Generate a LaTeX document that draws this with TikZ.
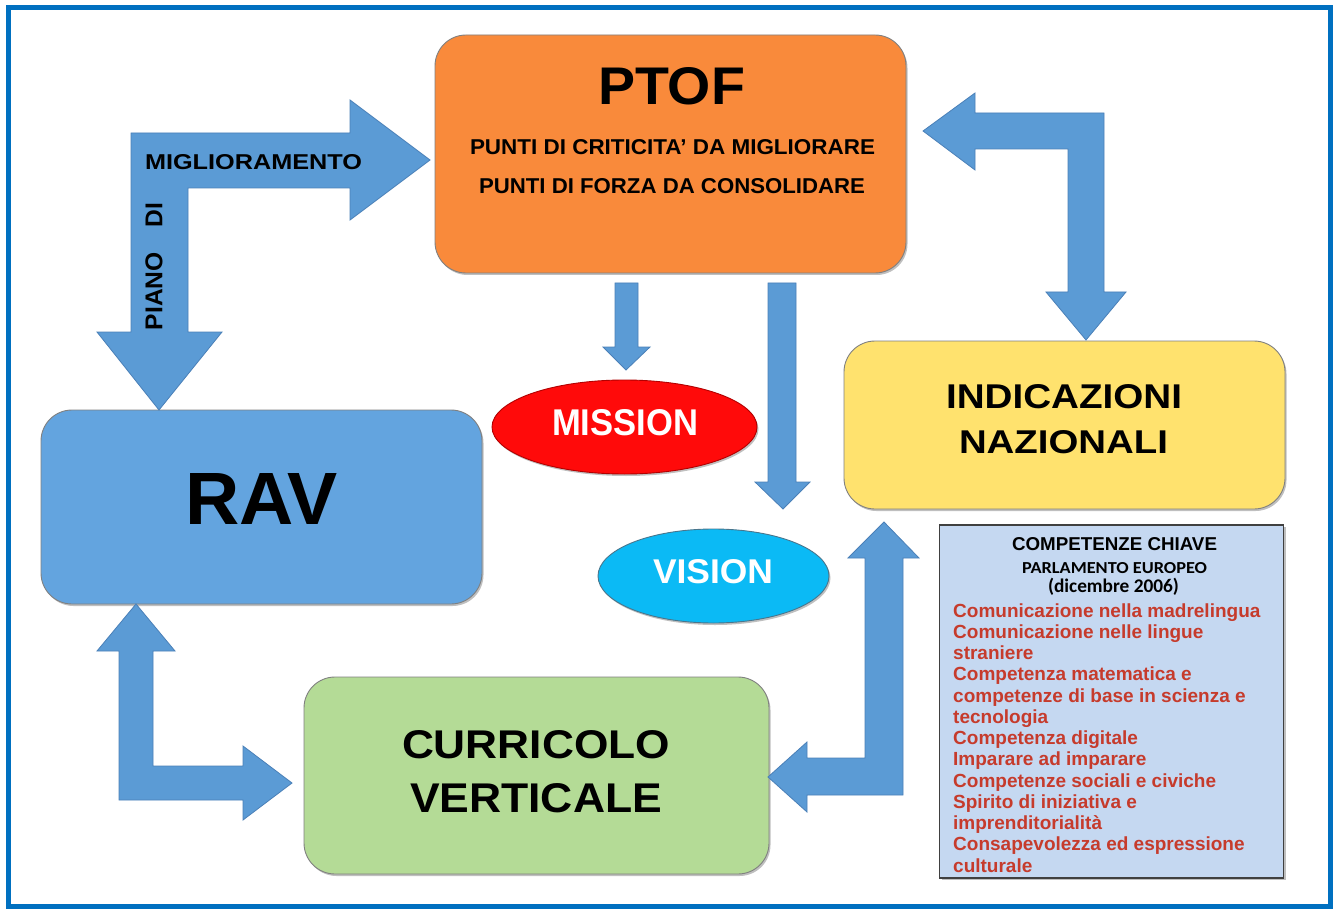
\documentclass[tikz,border=0pt]{standalone}
\usepackage{fontspec}
\setmainfont{Liberation Sans}
\newfontfamily\calfont{Carlito}
\usetikzlibrary{shadows,shapes.geometric}
\definecolor{framec}{HTML}{0070C0}
\definecolor{arrowc}{HTML}{5B9BD5}
\definecolor{arrowd}{HTML}{4A80B8}
\definecolor{ptofc}{HTML}{F98A3B}
\definecolor{ravc}{HTML}{63A4DF}
\definecolor{indc}{HTML}{FFE26E}
\definecolor{curc}{HTML}{B4DB96}
\definecolor{compc}{HTML}{C5D8F1}
\definecolor{redtxt}{HTML}{C63B2C}
\definecolor{missc}{HTML}{FF0A0A}
\definecolor{visc}{HTML}{0BBAF5}
\newcommand\fitt[3]{\resizebox{#1pt}{#2pt}{#3}}
\begin{document}
\begin{tikzpicture}[x=1pt,y=-1pt,
  box/.style={rounded corners=31pt, draw=black!50, line width=0.9pt, inner sep=0pt,
    drop shadow={shadow xshift=1.5pt, shadow yshift=-2pt, opacity=0.5}},
  arr/.style={fill=arrowc, draw=arrowd, line width=0.8pt, line join=miter},
  tx/.style={inner sep=0pt, outer sep=0pt, anchor=north west},
  oval/.style={ellipse, inner sep=0pt, line width=0.9pt,
    drop shadow={shadow xshift=1.5pt, shadow yshift=-2pt, opacity=0.5}},
  redline/.style={inner sep=0pt, anchor=base west, text=redtxt,
    font=\fontsize{19}{20}\selectfont\bfseries}]
\useasboundingbox (0,0) rectangle (1333,909);
\fill[white] (0,0) rectangle (1333,909);
\draw[framec, line width=5pt] (8,8) rectangle (1330,906);

% boxes
\node[box, fill=ptofc, minimum width=471pt, minimum height=238pt] (ptof) at (670.5,154) {};
\node[box, fill=ravc, minimum width=441pt, minimum height=194pt] (rav) at (261.5,507) {};
\node[box, fill=indc, minimum width=441pt, minimum height=168pt] (ind) at (1064.5,425) {};
\node[box, fill=curc, minimum width=465pt, minimum height=197pt] (cur) at (536.5,775.5) {};
\node[draw=black!75, line width=1.5pt, fill=compc, inner sep=0pt,
  minimum width=344pt, minimum height=353pt,
  drop shadow={shadow xshift=2pt, shadow yshift=-2pt, opacity=0.5}] (comp) at (1111.5,701.5) {};

% ovals
\node[oval, fill=missc, draw=red!70!black, minimum width=265pt, minimum height=94pt] (mission) at (624.5,427) {};
\node[oval, fill=visc, draw=cyan!50!black, minimum width=231pt, minimum height=94pt] (vision) at (713.5,576) {};

% block arrows
\draw[arr] (131,133) -- (350,133) -- (350,100) -- (430,160) -- (350,220) -- (350,188)
  -- (188,188) -- (188,332) -- (222,332) -- (159,410) -- (97,332) -- (131,332) -- cycle;
\draw[arr] (136,604) -- (175,651) -- (153,651) -- (153,766) -- (243,766) -- (243,746)
  -- (292,783) -- (243,820) -- (243,800) -- (119,800) -- (119,651) -- (97,651) -- cycle;
\draw[arr] (884,522) -- (919,558) -- (903,558) -- (903,795) -- (807,795) -- (807,812)
  -- (768,777) -- (807,742) -- (807,758) -- (865,758) -- (865,558) -- (848,558) -- cycle;
\draw[arr] (1104,113) -- (1104,292) -- (1126,292) -- (1086,340) -- (1046,292) -- (1068,292)
  -- (1068,149) -- (975,149) -- (975,170) -- (923,131) -- (975,93) -- (975,113) -- cycle;
\draw[arr] (615,283) -- (638,283) -- (638,347) -- (650,347) -- (626,370) -- (603,347) -- (615,347) -- cycle;
\draw[arr] (768,283) -- (796,283) -- (796,482) -- (810,482) -- (783,509) -- (755,482) -- (768,482) -- cycle;

% texts
\node[tx] (tptof) at (598,67) {\fitt{147}{37}{\bfseries PTOF}};
\node[tx] (tcrit) at (470,140) {\fitt{405}{15}{\bfseries PUNTI DI CRITICITA’ DA MIGLIORARE}};
\node[tx] (tforza) at (479,179) {\fitt{386}{15}{\bfseries PUNTI DI FORZA DA CONSOLIDARE}};
\node[tx] (trav) at (185,473) {\fitt{153}{51}{\bfseries RAV}};
\node[tx] (tind1) at (946,384) {\fitt{236}{24}{\bfseries INDICAZIONI}};
\node[tx] (tind2) at (959,430) {\fitt{209}{23}{\bfseries NAZIONALI}};
\node[tx] (tcur1) at (402,730) {\fitt{268}{28}{\bfseries CURRICOLO}};
\node[tx] (tcur2) at (410,783) {\fitt{252}{29}{\bfseries VERTICALE}};
\node[tx, text=white] (tmis) at (552,409) {\fitt{146}{26}{\bfseries MISSION}};
\node[tx, text=white] (tvis) at (653,559) {\fitt{120}{24}{\bfseries VISION}};
\node[tx] (tmig) at (145,155) {\fitt{217}{15}{\bfseries MIGLIORAMENTO}};
\node[inner sep=0pt, rotate=90] (tpiano) at (154,266.5) {\fitt{127}{17}{\bfseries PIANO\hspace{1em}DI}};

\node[tx] (tcomp) at (1012,537) {\fitt{205}{13}{\bfseries COMPETENZE CHIAVE}};
\node[tx] (tparl) at (1022,562) {\fitt{185}{11}{\calfont\bfseries PARLAMENTO EUROPEO}};
\node[inner sep=0pt] (tdic) at (1113.5,587) {\resizebox{131pt}{!}{\calfont\bfseries (dicembre 2006)}};

\foreach \t [count=\i from 0] in {Comunicazione nella madrelingua, Comunicazione nelle lingue,
  straniere, Competenza matematica e, competenze di base in scienza e, tecnologia,
  Competenza digitale, Imparare ad imparare, Competenze sociali e civiche,
  Spirito di iniziativa e, imprenditorialità, Consapevolezza ed espressione, culturale}
  \node[redline] (r\i) at (953,617+21.25*\i) {\t};
\end{tikzpicture}
\end{document}
